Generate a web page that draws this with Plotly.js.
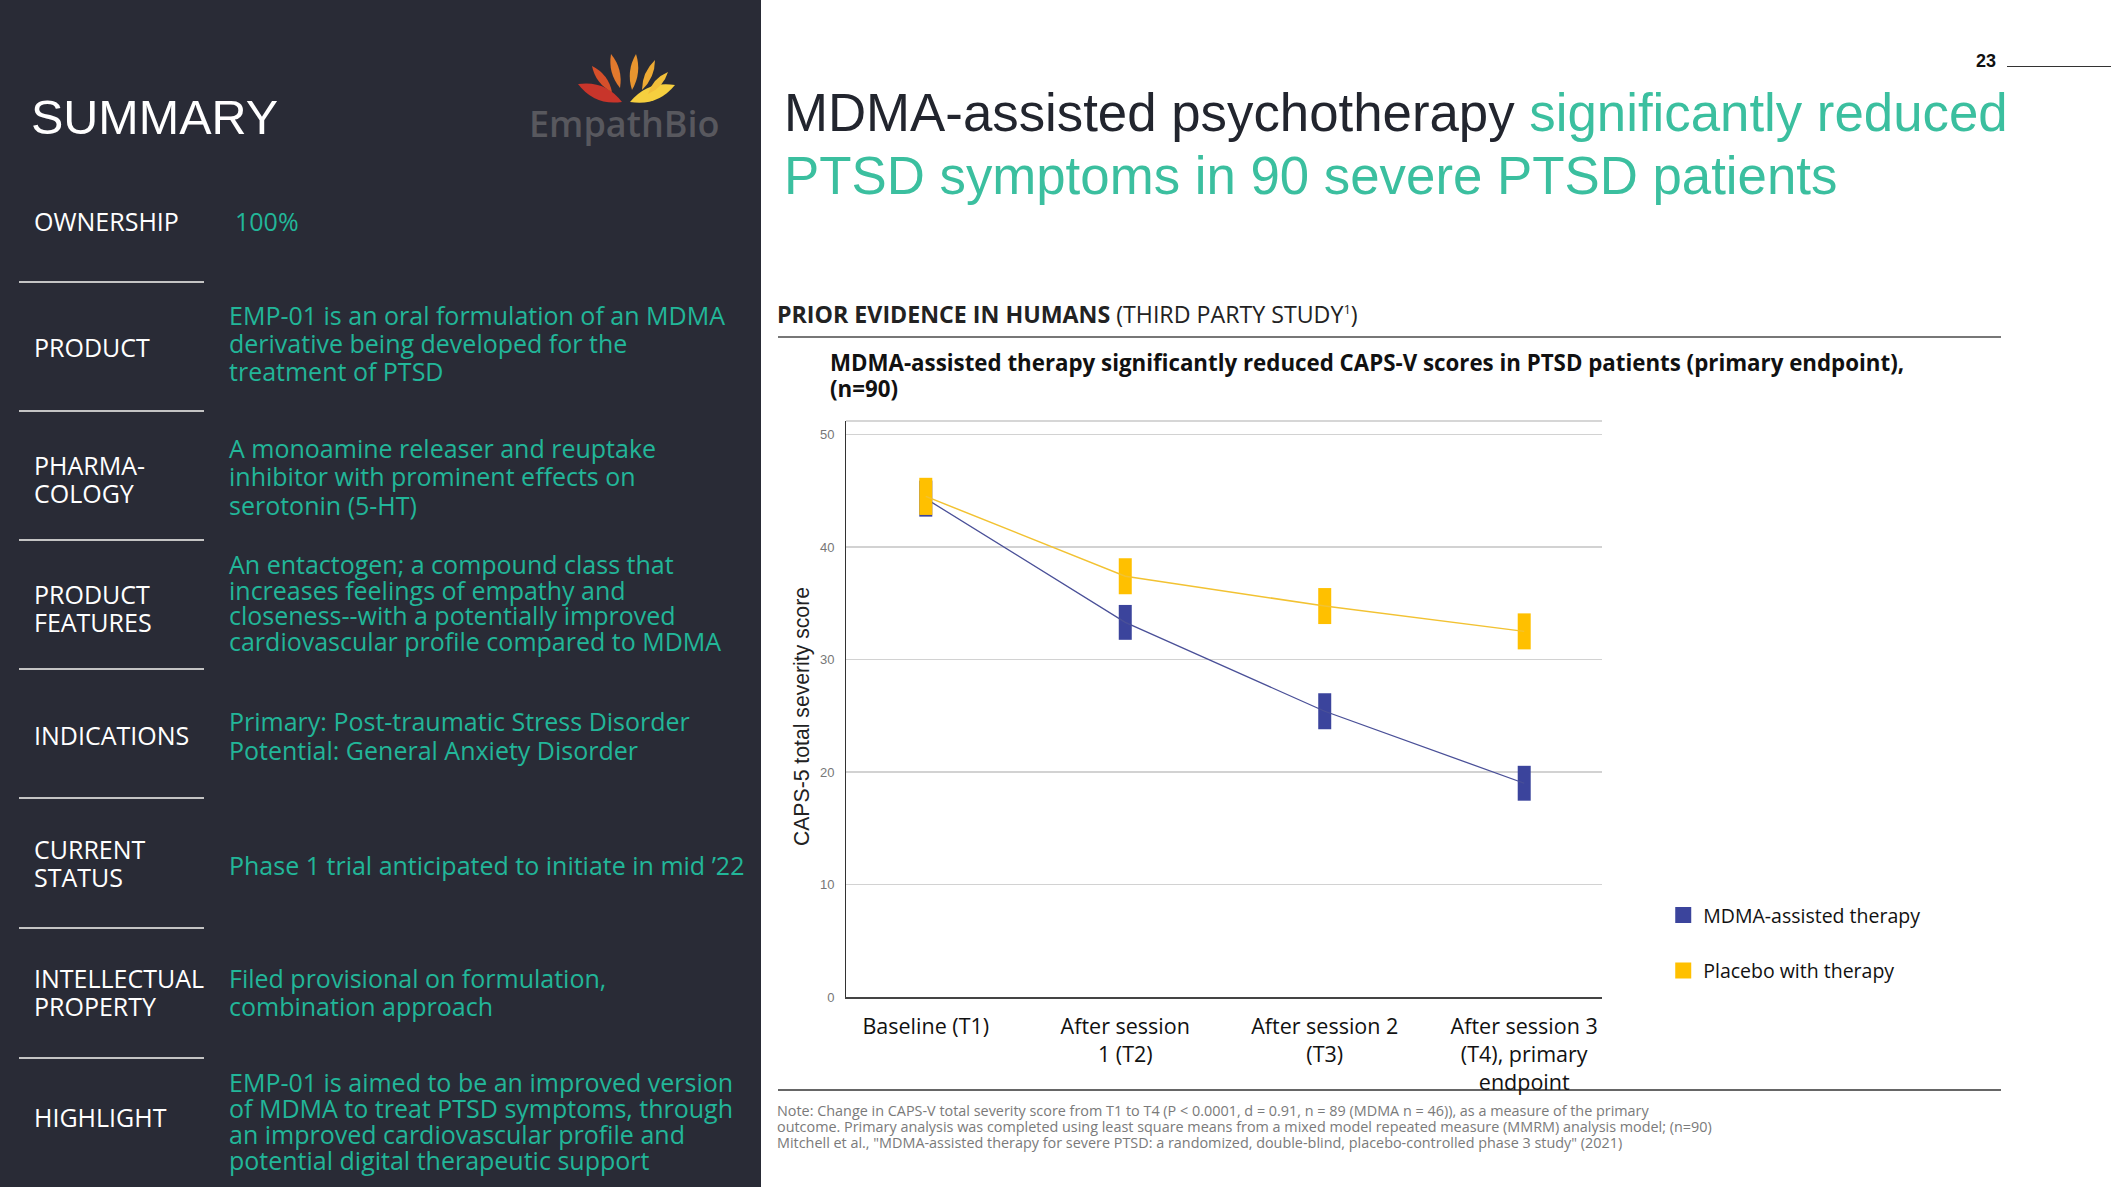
<!DOCTYPE html>
<html>
<head>
<meta charset="utf-8">
<script src="https://cdn.plot.ly/plotly-3.0.1.min.js"></script>
<style>
  html, body { margin:0; padding:0; background:#ffffff; }
  body { width:2111px; height:1187px; position:relative; overflow:hidden; }
  .abs { position:absolute; white-space:nowrap; }
  #panel { position:absolute; left:0; top:0; width:761px; height:1187px; background:#292b36; }
  .lab { font-family:"Open Sans", sans-serif; font-size:25px; color:#ffffff; }
  .txt { font-family:"Open Sans", sans-serif; font-size:25px; color:#22b699; }
  .sep { position:absolute; left:19px; width:185px; height:2px; background:#c4c4c4; }
  #chart { position:absolute; left:0; top:0; width:2111px; height:1187px; }
</style>
</head>
<body>
<div id="panel"></div>

<!-- logo -->
<svg class="abs" style="left:0;top:0" width="761" height="150">
  <path d="M622,102 Q605.3,80 578,84 Q594.7,106 622,102 Z" fill="#c8352b"/>
  <path d="M630,102 Q657.4,106.6 675,85 Q647.6,80.4 630,102 Z" fill="#f6cf3f"/>
  <path d="M612,92 Q608.3,74.1 592,66 Q595.7,83.9 612,92 Z" fill="#d64f2a"/>
  <path d="M620,88 Q623.2,69 611,54 Q607.8,73 620,88 Z" fill="#e2792d"/>
  <path d="M632,90 Q642,72.9 636,54 Q626,71.1 632,90 Z" fill="#e8952f"/>
  <path d="M642,90 Q654.9,77.8 655,60 Q642.1,72.2 642,90 Z" fill="#eeab34"/>
  <path d="M648,94 Q663.2,87.7 668,72 Q652.8,78.3 648,94 Z" fill="#f2bf3a"/>
</svg>
<div class="abs" style="left:529px;top:102px;font-family:'Open Sans',sans-serif;font-weight:600;font-size:36px;line-height:44px;color:#58585e;">EmpathBio</div>

<div class="abs" style="left:31px;top:89px;font-family:'Liberation Sans',Arial,sans-serif;font-size:48.5px;line-height:56px;color:#ffffff;">SUMMARY</div>

<div class="sep" style="top:281px;"></div>
<div class="sep" style="top:410px;"></div>
<div class="sep" style="top:539px;"></div>
<div class="sep" style="top:668px;"></div>
<div class="sep" style="top:797px;"></div>
<div class="sep" style="top:927px;"></div>
<div class="sep" style="top:1057px;"></div>

<div id="rows"></div>

<!-- right side -->
<div class="abs" style="left:1976px;top:51px;font-family:'Liberation Sans',Arial,sans-serif;font-weight:bold;font-size:18px;line-height:20px;color:#111;">23</div>
<div class="abs" style="left:2007px;top:66px;width:104px;height:1px;background:#333;"></div>

<div class="abs" style="left:784px;top:80.7px;font-family:'Liberation Sans',Arial,sans-serif;font-size:52.8px;line-height:63px;color:#22252e;">MDMA-assisted psychotherapy <span style="color:#3bbf9f">significantly reduced</span></div>
<div class="abs" style="left:784px;top:143.7px;font-family:'Liberation Sans',Arial,sans-serif;font-size:52.8px;line-height:63px;color:#3bbf9f;">PTSD symptoms in 90 severe PTSD patients</div>

<div class="abs" style="left:777px;top:295px;font-family:'Open Sans',sans-serif;font-size:23.2px;line-height:28px;color:#222;"><b>PRIOR EVIDENCE IN HUMANS</b> (THIRD PARTY STUDY<sup style="font-size:13px;">1</sup>)</div>
<div class="abs" style="left:778px;top:336px;width:1223px;height:2px;background:#777;"></div>

<div class="abs" style="left:830px;top:349.5px;font-family:'Open Sans',sans-serif;font-weight:bold;font-size:22.3px;line-height:26px;color:#111;">MDMA-assisted therapy significantly reduced CAPS-V scores in PTSD patients (primary endpoint),</div>
<div class="abs" style="left:830px;top:375.5px;font-family:'Open Sans',sans-serif;font-weight:bold;font-size:22.3px;line-height:26px;color:#111;">(n=90)</div>

<div class="abs" style="left:778px;top:1089px;width:1223px;height:2px;background:#666;"></div>
<div id="notes"></div>

<div id="chart"></div>

<script>
// ---- slide text (left panel) ----
function block(parent, cls, left, top, lh, lines, extraStyle) {
  lines.forEach(function (s, i) {
    const d = document.createElement('div');
    d.className = 'abs ' + cls;
    d.style.left = left + 'px';
    d.style.top = (top + i * lh) + 'px';
    d.style.lineHeight = lh + 'px';
    d.style.height = lh + 'px';
    if (extraStyle) d.style.cssText += extraStyle;
    d.textContent = s;
    parent.appendChild(d);
  });
}
const rows = document.getElementById('rows');
block(rows, 'lab', 34, 207, 28, ['OWNERSHIP']);
block(rows, 'txt', 235, 207, 28, ['100%']);
block(rows, 'lab', 34, 332.5, 28, ['PRODUCT']);
block(rows, 'txt', 229, 300.8, 28.3, ['EMP-01 is an oral formulation of an MDMA', 'derivative being developed for the', 'treatment of PTSD']);
block(rows, 'lab', 34, 451, 28, ['PHARMA-', 'COLOGY']);
block(rows, 'txt', 229, 433.7, 28.5, ['A monoamine releaser and reuptake', 'inhibitor with prominent effects on', 'serotonin (5-HT)']);
block(rows, 'lab', 34, 580, 28, ['PRODUCT', 'FEATURES']);
block(rows, 'txt', 229, 552.2, 25.6, ['An entactogen; a compound class that', 'increases feelings of empathy and', 'closeness--with a potentially improved', 'cardiovascular profile compared to MDMA']);
block(rows, 'lab', 34, 721, 28, ['INDICATIONS']);
block(rows, 'txt', 229, 707.2, 28.5, ['Primary: Post-traumatic Stress Disorder', 'Potential: General Anxiety Disorder']);
block(rows, 'lab', 34, 834.7, 28, ['CURRENT', 'STATUS']);
block(rows, 'txt', 229, 851, 28, ['Phase 1 trial anticipated to initiate in mid ’22']);
block(rows, 'lab', 34, 964, 28, ['INTELLECTUAL', 'PROPERTY']);
block(rows, 'txt', 229, 963.7, 28.5, ['Filed provisional on formulation,', 'combination approach']);
block(rows, 'lab', 34, 1103, 28, ['HIGHLIGHT']);
block(rows, 'txt', 229, 1068.6, 26.1, ['EMP-01 is aimed to be an improved version', 'of MDMA to treat PTSD symptoms, through', 'an improved cardiovascular profile and', 'potential digital therapeutic support']);

block(document.getElementById('notes'), '', 777, 1102.5, 16.4, [
  'Note: Change in CAPS-V total severity score from T1 to T4 (P < 0.0001, d = 0.91, n = 89 (MDMA n = 46)), as a measure of the primary',
  'outcome. Primary analysis was completed using least square means from a mixed model repeated measure (MMRM) analysis model; (n=90)',
  'Mitchell et al., "MDMA-assisted therapy for severe PTSD: a randomized, double-blind, placebo-controlled phase 3 study" (2021)'
], "font-family:'Open Sans',sans-serif;font-size:14.4px;color:#7a7a7a;");

// ---- chart data ----
const categories = ['Baseline (T1)', 'After session<br>1 (T2)', 'After session 2<br>(T3)', 'After session 3<br>(T4), primary<br>endpoint'];
const mdmaMean = [44.3, 33.3, 25.4, 19.0];
const mdmaErr = [1.6, 1.55, 1.6, 1.55];
const placeboMean = [44.5, 37.4, 34.75, 32.5];
const placeboErr = [1.65, 1.6, 1.6, 1.6];
const yTicks = [0, 10, 20, 30, 40, 50];
const seriesNames = ['MDMA-assisted therapy', 'Placebo with therapy'];
const yAxisTitle = 'CAPS-5 total severity score';

const BLUE = '#3b449c';
const YELLOW = '#ffc000';

const traces = [
  {
    x: categories, y: mdmaMean, type: 'scatter', mode: 'lines',
    line: { color: '#4a5098', width: 1.3 },
    error_y: { type: 'data', array: mdmaErr, visible: true, color: BLUE, thickness: 13, width: 0 },
    showlegend: false, hoverinfo: 'skip'
  },
  {
    x: categories, y: placeboMean, type: 'scatter', mode: 'lines',
    line: { color: '#f2c232', width: 1.5 },
    error_y: { type: 'data', array: placeboErr, visible: true, color: YELLOW, thickness: 13, width: 0 },
    showlegend: false, hoverinfo: 'skip'
  },
  {
    x: [null], y: [null], type: 'scatter', mode: 'markers', name: seriesNames[0],
    legendgroup: 'a', marker: { symbol: 'square', size: 16, color: BLUE }
  },
  {
    x: [null], y: [null], type: 'scatter', mode: 'markers', name: seriesNames[1],
    legendgroup: 'b', marker: { symbol: 'square', size: 16, color: YELLOW }
  }
];

const layout = {
  width: 2111, height: 1187,
  margin: { l: 846, r: 509, t: 421, b: 190, pad: 0 },
  paper_bgcolor: 'rgba(0,0,0,0)', plot_bgcolor: 'rgba(0,0,0,0)',
  showlegend: true,
  legend: {
    x: 1.081, xanchor: 'left', y: 0.094, yanchor: 'middle',
    font: { family: 'Open Sans, sans-serif', size: 19.5, color: '#111' },
    traceorder: 'grouped', tracegroupgap: 27, bgcolor: 'rgba(0,0,0,0)'
  },
  xaxis: {
    type: 'category', range: [-0.4, 3.39], fixedrange: true,
    showgrid: false, zeroline: false,
    showline: true, linecolor: '#444', linewidth: 2,
    ticks: 'outside', ticklen: 9, tickcolor: 'rgba(0,0,0,0)',
    tickfont: { family: 'Open Sans, sans-serif', size: 21.5, color: '#111' },
    automargin: false
  },
  yaxis: {
    range: [0, 51.2], fixedrange: true,
    tickvals: yTicks, ticktext: yTicks.map(String),
    showgrid: true, gridcolor: '#d2d2d2', gridwidth: 1.5,
    zeroline: false,
    showline: true, linecolor: '#333', linewidth: 1,
    ticks: 'outside', ticklen: 8, tickcolor: 'rgba(0,0,0,0)',
    tickfont: { family: 'Liberation Sans Narrow, Liberation Sans, Arial, sans-serif', size: 13, color: '#777' },
    automargin: false
  },
  annotations: [
    { text: yAxisTitle, xref: 'paper', yref: 'paper', x: -0.0582, y: 0.486,
      xanchor: 'center', yanchor: 'middle', textangle: -90, showarrow: false,
      font: { family: 'Liberation Sans, Arial, sans-serif', size: 21.2, color: '#222' } }
  ],
  shapes: [
    { type: 'line', xref: 'paper', yref: 'paper', x0: 0, x1: 1, y0: 1, y1: 1,
      line: { color: '#c8c8c8', width: 1.5 } }
  ]
};

Plotly.newPlot('chart', traces, layout, { staticPlot: true, displayModeBar: false });
</script>
</body>
</html>
